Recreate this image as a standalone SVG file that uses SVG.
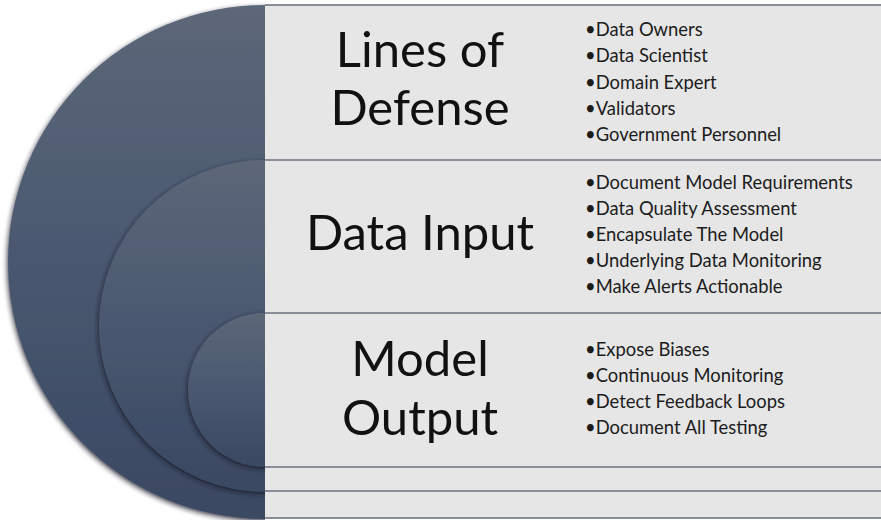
<svg xmlns="http://www.w3.org/2000/svg" width="881" height="520" viewBox="0 0 881 520">
  <defs>
    <linearGradient id="ring" x1="0" y1="0" x2="0" y2="1">
      <stop offset="0" stop-color="#5c6778"/>
      <stop offset="0.5" stop-color="#4a5870"/>
      <stop offset="1" stop-color="#3a4862"/>
    </linearGradient>
    <clipPath id="leftHalf">
      <rect x="0" y="0" width="265" height="520"/>
    </clipPath>
    <filter id="shadow" x="-20%" y="-20%" width="140%" height="140%">
      <feDropShadow dx="-1" dy="2" stdDeviation="2.5" flood-color="#141b28" flood-opacity="0.8"/>
    </filter>
  </defs>
  <style>
    .band { fill: #e6e6e6; }
    .sep { stroke: #878e98; stroke-width: 2; fill: none; }
    .title { font-family: Lato, "Open Sans", sans-serif; font-size: 49px; fill: #111111; text-anchor: middle; }
    .bullet { font-family: Lato, "Open Sans", sans-serif; font-size: 18.4px; fill: #1c1c1c; }
  </style>
  <rect width="881" height="520" fill="#ffffff"/>

  <g id="rings" clip-path="url(#leftHalf)">
    <circle cx="265" cy="262" r="257" fill="url(#ring)" filter="url(#shadow)"/>
    <circle cx="265" cy="326" r="166" fill="url(#ring)" filter="url(#shadow)"/>
    <circle cx="265" cy="390" r="77" fill="url(#ring)" filter="url(#shadow)"/>
  </g>

  <g id="lines-of-defense">
    <rect class="band" x="265" y="5" width="616" height="155"/>
    <text class="title" x="420" y="67">Lines of</text>
    <text class="title" x="420" y="125">Defense</text>
    <text class="bullet" x="585" y="36">•Data Owners</text>
    <text class="bullet" x="585" y="62">•Data Scientist</text>
    <text class="bullet" x="585" y="89">•Domain Expert</text>
    <text class="bullet" x="585" y="115">•Validators</text>
    <text class="bullet" x="585" y="141">•Government Personnel</text>
  </g>

  <g id="data-input">
    <rect class="band" x="265" y="160" width="616" height="153"/>
    <text class="title" x="420" y="250">Data Input</text>
    <text class="bullet" x="585" y="189">•Document Model Requirements</text>
    <text class="bullet" x="585" y="215">•Data Quality Assessment</text>
    <text class="bullet" x="585" y="241">•Encapsulate The Model</text>
    <text class="bullet" x="585" y="267">•Underlying Data Monitoring</text>
    <text class="bullet" x="585" y="293">•Make Alerts Actionable</text>
  </g>

  <g id="model-output">
    <rect class="band" x="265" y="313" width="616" height="154"/>
    <text class="title" x="420" y="376">Model</text>
    <text class="title" x="420" y="435">Output</text>
    <text class="bullet" x="585" y="356">•Expose Biases</text>
    <text class="bullet" x="585" y="382">•Continuous Monitoring</text>
    <text class="bullet" x="585" y="408">•Detect Feedback Loops</text>
    <text class="bullet" x="585" y="434">•Document All Testing</text>
  </g>

  <g id="empty-bands">
    <rect class="band" x="265" y="467" width="616" height="51"/>
  </g>

  <g id="connectors">
    <line class="sep" x1="265" y1="5" x2="881" y2="5"/>
    <line class="sep" x1="265" y1="160" x2="881" y2="160"/>
    <line class="sep" x1="265" y1="313" x2="881" y2="313"/>
    <line class="sep" x1="265" y1="467" x2="881" y2="467"/>
    <line class="sep" x1="265" y1="491" x2="881" y2="491"/>
    <line class="sep" x1="265" y1="518" x2="881" y2="518"/>
  </g>
</svg>
